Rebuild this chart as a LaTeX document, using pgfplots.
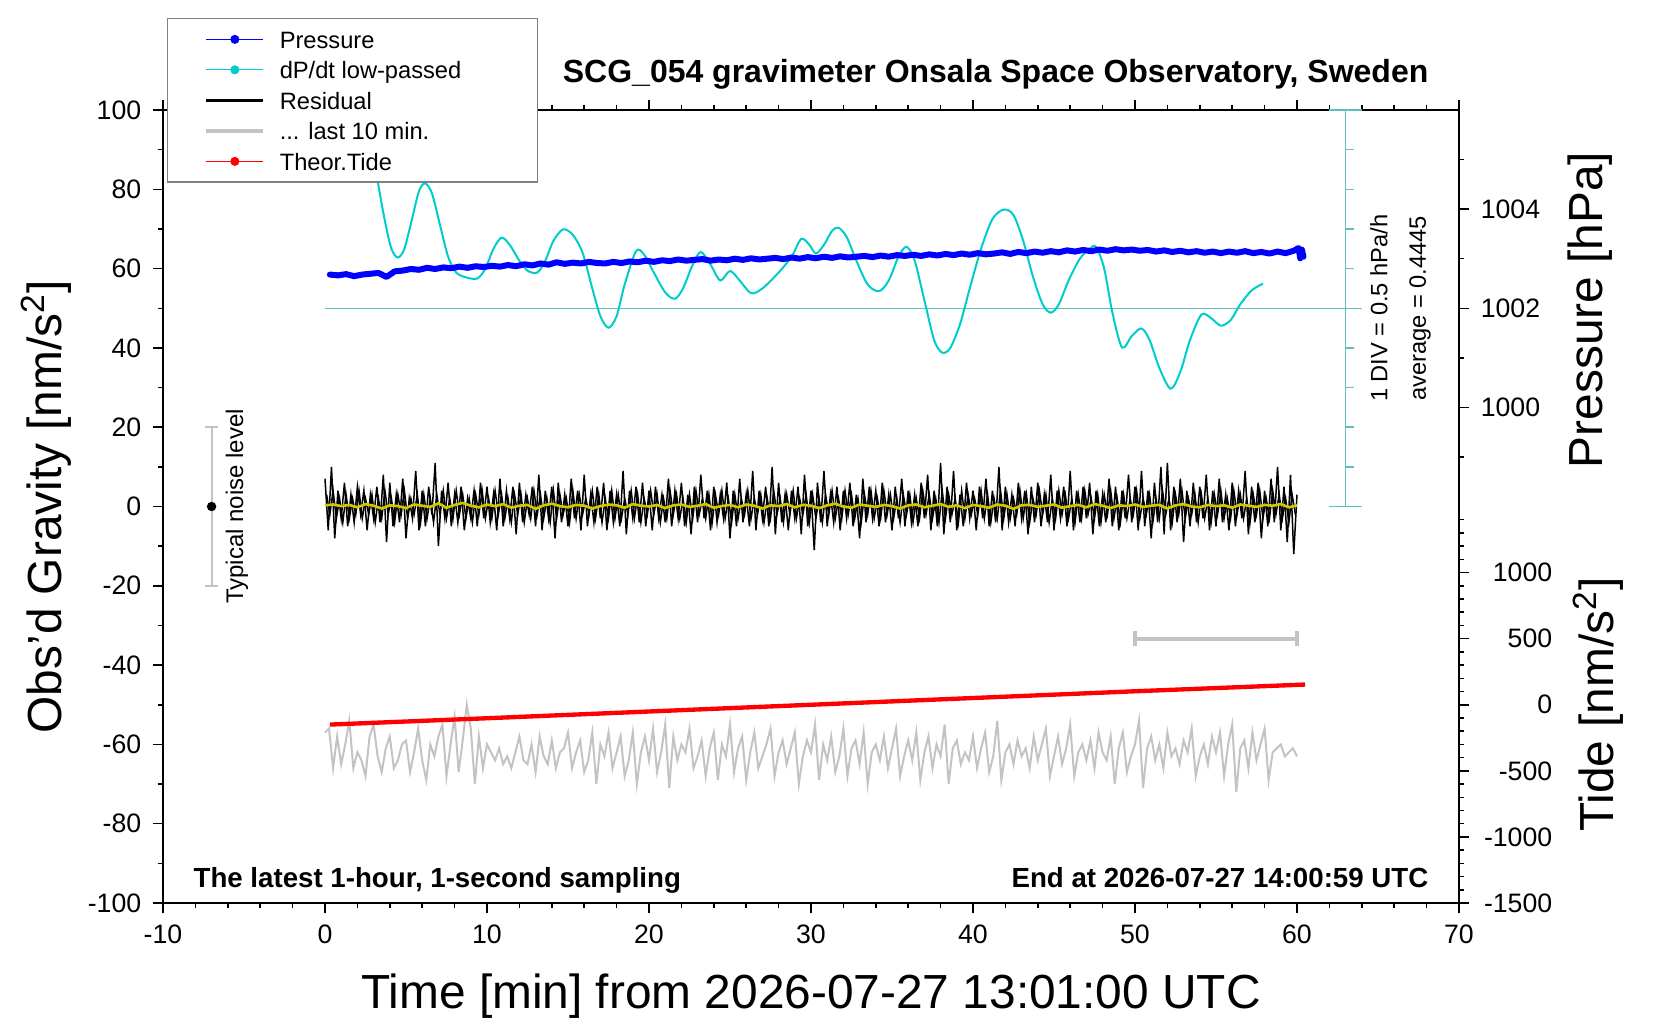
\documentclass[border=0pt]{standalone}
\usepackage{fontspec}
\setmainfont{Liberation Sans}
\usepackage{pgfplots}
\pgfplotsset{compat=1.18}
\definecolor{cyanc}{RGB}{0,204,204}
\definecolor{tealc}{RGB}{95,190,190}
\definecolor{grayc}{RGB}{195,195,195}
\definecolor{yel}{RGB}{205,200,0}
\definecolor{leggray}{RGB}{128,128,128}
\newcommand\lgt[1]{\makebox[63.9pt][l]{\rule[-2.25pt]{0pt}{9.15pt}#1}}
\pgfplotsset{
 common/.style={
  scale only axis, width=388.8pt, height=237.9pt, at={(0,0)}, anchor=south west,
  xmin=-10, xmax=70,
  tick align=outside,
  major tick length=3pt, minor tick length=1.6pt,
  every tick/.style={black, line width=0.45pt},
  axis line style={line width=0.8pt},
  tick label style={font=\fontsize{8}{9.6}\selectfont},
  /pgf/number format/assume math mode=true,
  /pgf/number format/1000 sep={},
  scaled ticks=false,
 }
}
\begin{document}
\begin{tikzpicture}
\path[use as bounding box] (-48.9pt,-35.1pt) rectangle (449.1pt,270.9pt);
\begin{axis}[common, ymin=-100, ymax=100,
  ytick={-100,-80,...,100}, minor y tick num=1,
  xtick={-10,0,...,70}, minor x tick num=4,
  ytick pos=left, xtick pos=both, clip=false,
  legend cell align=left,
  legend style={at={(0.003,1.116)}, anchor=north west, draw=leggray, line width=0.4pt,
    fill=white, inner xsep=11.1pt, inner ysep=2pt, row sep=0.75pt,
    font=\fontsize{7.1}{8.5}\selectfont, cells={anchor=west},
    /tikz/every odd column/.append style={column sep=2pt},
    nodes={inner xsep=2.4pt, inner ysep=0pt}},
]
% legend images
\addlegendimage{blue, line width=0.3pt, mark=*, mark size=1.2pt}
\addlegendentry{\lgt{Pressure}}
\addlegendimage{cyanc, line width=0.3pt, mark=*, mark size=1.2pt}
\addlegendentry{\lgt{dP/dt low-passed}}
\addlegendimage{black, line width=0.8pt}
\addlegendentry{\lgt{Residual}}
\addlegendimage{grayc, line width=1.1pt}
\addlegendentry{\lgt{... last 10 min.}}
\addlegendimage{red, line width=0.3pt, mark=*, mark size=1.2pt}
\addlegendentry{\lgt{Theor.Tide}}

% average line and dP/dt scale
\addplot[tealc, line width=0.45pt, forget plot] coordinates {(0,50)(64,50)};
\addplot[tealc, line width=0.45pt, forget plot] coordinates {(63,0)(63,100)};
\addplot[tealc, line width=0.45pt, forget plot] coordinates {(62,0)(64,0)};
\addplot[tealc, line width=0.45pt, forget plot] coordinates {(62,100)(64,100)};
\addplot[tealc, line width=0.45pt, unbounded coords=jump, forget plot] coordinates {
(63,10)(63.5,10)(nan,nan)(63,20)(63.5,20)(nan,nan)(63,30)(63.5,30)(nan,nan)
(63,40)(63.5,40)(nan,nan)(63,60)(63.5,60)(nan,nan)(63,70)(63.5,70)(nan,nan)
(63,80)(63.5,80)(nan,nan)(63,90)(63.5,90)};

% dP/dt low-passed
\addplot[cyanc, line width=0.6pt, smooth, tension=0.5, forget plot] coordinates {
(2.6,99)(2.9,92)(3.27,81.7)(3.7,72)(4.1,65)(4.5,62.8)(4.9,65)(5.4,73)(5.8,79.5)(6.17,81.5)
(6.6,79)(7.1,71)(7.6,63)(8.1,59)(8.7,57.8)(9.4,57.5)(9.9,60)(10.4,65)(10.9,67.8)(11.4,66)
(12.0,62)(12.5,59.5)(13.1,59)(13.6,62)(14.1,67)(14.7,69.9)(15.3,68.5)(15.9,64)(16.5,55)(17.0,48)
(17.5,45.1)(18.0,48)(18.5,56)(19.2,64.4)(19.7,63.5)(20.3,59)(21.0,54)(21.6,52.4)(22.1,55)(22.7,61)
(23.2,64.2)(23.8,61)(24.4,57)(25.0,59.4)(25.6,57)(26.3,53.8)(27.0,55)(28.0,59)(28.8,63)(29.4,67.5)
(29.9,66)(30.3,63.8)(30.8,66)(31.3,69.5)(31.7,70.3)(32.2,68)(32.8,62)(33.5,56)(34.2,54.3)(34.8,57)
(35.4,63)(35.9,65.5)(36.4,62)(37.0,52)(37.6,42)(38.1,38.8)(38.6,40)(39.2,46)(39.8,55)(40.5,65)
(41.2,72.5)(41.9,74.9)(42.5,73.5)(43.1,67)(43.7,58)(44.3,51)(44.8,48.9)(45.3,51)(45.9,57)(46.6,62.5)
(47.2,65)(47.6,65.5)(48.1,60)(48.6,49)(49.2,40.1)(49.8,43)(50.4,44.9)(50.9,42)(51.5,35)(52.2,29.7)
(52.8,34)(53.4,42)(54.1,48.4)(54.7,47.5)(55.3,45.6)(55.9,47)(56.5,51)(57.2,54.5)(57.9,56.2)};

% Pressure
\addplot[blue, line width=1.8pt, line join=round, line cap=round, forget plot] coordinates {
(0.3,58.5)(0.8,58.3)(1.3,58.6)(1.8,58.1)(2.3,58.5)(2.8,58.7)(3.3,58.9)(3.8,57.9)(4.3,59.3)(4.8,59.5)
(5.3,59.9)(5.8,59.7)(6.3,60.2)(6.8,59.9)(7.3,60.3)(7.8,60.1)(8.3,60.5)(8.8,60.2)(9.3,60.6)(9.8,60.4)
(10.3,60.7)(10.8,60.5)(11.3,60.9)(11.8,60.6)(12.3,61.1)(12.8,60.8)(13.3,61.3)(13.8,61.0)(14.3,61.6)(14.8,61.2)
(15.3,61.5)(15.8,61.3)(16.3,61.7)(16.8,61.4)(17.3,61.3)(17.8,61.7)(18.3,61.4)(18.8,61.8)(19.3,61.6)(19.8,62.0)
(20.3,61.7)(20.8,62.1)(21.3,61.9)(21.8,62.3)(22.3,62.0)(22.8,62.2)(23.3,62.4)(23.8,62.0)(24.3,62.3)(24.8,62.1)
(25.3,62.5)(25.8,62.2)(26.3,62.6)(26.8,62.3)(27.3,62.5)(27.8,62.7)(28.3,62.4)(28.8,62.8)(29.3,62.5)(29.8,62.9)
(30.3,62.6)(30.8,63.0)(31.3,62.7)(31.8,63.1)(32.3,62.8)(32.8,63.0)(33.3,63.2)(33.8,62.9)(34.3,63.3)(34.8,63.0)
(35.3,63.4)(35.8,63.2)(36.3,63.5)(36.8,63.2)(37.3,63.6)(37.8,63.3)(38.3,63.7)(38.8,63.4)(39.3,63.8)(39.8,63.5)
(40.3,63.9)(40.8,63.6)(41.3,63.8)(41.8,64.1)(42.3,63.7)(42.8,64.2)(43.3,63.9)(43.8,64.3)(44.3,64.0)(44.8,64.4)
(45.3,64.1)(45.8,64.6)(46.3,64.3)(46.8,64.7)(47.3,64.4)(47.8,64.8)(48.3,64.5)(48.8,64.9)(49.3,64.6)(49.8,64.8)
(50.3,64.5)(50.8,64.7)(51.3,64.3)(51.8,64.6)(52.3,64.2)(52.8,64.5)(53.3,64.1)(53.8,64.4)(54.3,64.0)(54.8,64.3)
(55.3,63.9)(55.8,64.3)(56.3,64.0)(56.8,64.4)(57.3,63.9)(57.8,64.2)(58.3,63.8)(58.8,64.3)(59.3,63.9)(59.8,64.5)
(60.1,65.2)(60.2,62.6)(60.3,64.8)(60.4,63.0)};

% Residual
\addplot[black, line width=0.45pt, forget plot] coordinates {
(0,7)(0.2,-6)(0.4,10)(0.6,-8)(0.8,4)(1,-3)(1.2,6)(1.4,-5)(1.6,3)(1.8,-4)
(2,5)(2.2,-2)(2.4,4)(2.6,-6)(2.8,3)(3,-3)(3.2,5)(3.4,-4)(3.6,8)(3.8,-9)
(4,6)(4.2,-5)(4.4,3)(4.6,-4)(4.8,7)(5,-8)(5.2,2)(5.4,-3)(5.6,9)(5.8,-6)
(6,4)(6.2,-5)(6.4,5)(6.6,-2)(6.8,11)(7,-10)(7.2,4)(7.4,-3)(7.6,6)(7.8,-5)
(8,3)(8.2,-4)(8.4,5)(8.6,-6)(8.8,2)(9,-3)(9.2,4)(9.4,-5)(9.6,6)(9.8,-3)
(10,5)(10.2,-4)(10.4,3)(10.6,-6)(10.8,7)(11,-5)(11.2,4)(11.4,-3)(11.6,5)(11.8,-7)
(12,6)(12.2,-4)(12.4,3)(12.6,-2)(12.8,5)(13,-5)(13.2,8)(13.4,-6)(13.6,4)(13.8,-3)
(14,5)(14.2,-8)(14.4,6)(14.6,-4)(14.8,3)(15,-5)(15.2,7)(15.4,-3)(15.6,4)(15.8,-6)
(16,8)(16.2,-5)(16.4,3)(16.6,-4)(16.8,5)(17,-3)(17.2,6)(17.4,-6)(17.6,4)(17.8,-4)
(18,3)(18.2,-5)(18.4,9)(18.6,-7)(18.8,4)(19,-3)(19.2,5)(19.4,-4)(19.6,6)(19.8,-5)
(20,4)(20.2,-6)(20.4,5)(20.6,-3)(20.8,3)(21,-4)(21.2,7)(21.4,-5)(21.6,4)(21.8,-3)
(22,6)(22.2,-5)(22.4,3)(22.6,-7)(22.8,5)(23,-4)(23.2,8)(23.4,-3)(23.6,4)(23.8,-6)
(24,5)(24.2,-4)(24.4,3)(24.6,-3)(24.8,6)(25,-8)(25.2,4)(25.4,-5)(25.6,7)(25.8,-4)
(26,3)(26.2,-5)(26.4,9)(26.6,-6)(26.8,4)(27,-3)(27.2,5)(27.4,-5)(27.6,10)(27.8,-7)
(28,6)(28.2,-4)(28.4,3)(28.6,-6)(28.8,4)(29,-3)(29.2,5)(29.4,-7)(29.6,8)(29.8,-5)
(30,4)(30.2,-11)(30.4,6)(30.6,-4)(30.8,9)(31,-5)(31.2,3)(31.4,-4)(31.6,5)(31.8,-6)
(32,4)(32.2,-3)(32.4,6)(32.6,-5)(32.8,3)(33,-8)(33.2,7)(33.4,-4)(33.6,5)(33.8,-3)
(34,4)(34.2,-5)(34.4,6)(34.6,-4)(34.8,3)(35,-6)(35.2,5)(35.4,-3)(35.6,7)(35.8,-5)
(36,4)(36.2,-4)(36.4,3)(36.6,-5)(36.8,6)(37,-3)(37.2,8)(37.4,-6)(37.6,4)(37.8,-5)
(38,11)(38.2,-7)(38.4,5)(38.6,-4)(38.8,9)(39,-6)(39.2,3)(39.4,-5)(39.6,6)(39.8,-3)
(40,4)(40.2,-6)(40.4,5)(40.6,-3)(40.8,7)(41,-5)(41.2,4)(41.4,-4)(41.6,10)(41.8,-6)
(42,5)(42.2,-4)(42.4,3)(42.6,-5)(42.8,6)(43,-3)(43.2,4)(43.4,-7)(43.6,5)(43.8,-4)
(44,6)(44.2,-5)(44.4,3)(44.6,-4)(44.8,8)(45,-6)(45.2,4)(45.4,-3)(45.6,5)(45.8,-5)
(46,9)(46.2,-6)(46.4,4)(46.6,-4)(46.8,5)(47,-3)(47.2,6)(47.4,-7)(47.6,4)(47.8,-5)
(48,3)(48.2,-4)(48.4,7)(48.6,-5)(48.8,5)(49,-6)(49.2,4)(49.4,-3)(49.6,8)(49.8,-4)
(50,5)(50.2,-6)(50.4,9)(50.6,-5)(50.8,4)(51,-8)(51.2,6)(51.4,-4)(51.6,10)(51.8,-7)
(52,11)(52.2,-6)(52.4,5)(52.6,-4)(52.8,7)(53,-9)(53.2,4)(53.4,-5)(53.6,6)(53.8,-4)
(54,5)(54.2,-3)(54.4,8)(54.6,-6)(54.8,4)(55,-5)(55.2,7)(55.4,-4)(55.6,3)(55.8,-6)
(56,6)(56.2,-5)(56.4,4)(56.6,-3)(56.8,9)(57,-7)(57.2,5)(57.4,-4)(57.6,6)(57.8,-8)
(58,4)(58.2,-5)(58.4,7)(58.6,-4)(58.8,10)(59,-6)(59.2,5)(59.4,-9)(59.6,8)(59.8,-12)(60,3)};
% Residual, intermediate samples
\addplot[black, line width=0.45pt, forget plot] coordinates {
(0.1,3)(0.3,-2)(0.5,4)(0.7,-3)(0.9,2)(1.1,-4)(1.3,3)(1.5,-3)(1.7,2)(1.9,-2)
(2.1,4)(2.3,-3)(2.5,2)(2.7,-2)(2.9,3)(3.1,-4)(3.3,2)(3.5,-3)(3.7,4)(3.9,-2)
(4.1,2)(4.3,-4)(4.5,3)(4.7,-2)(4.9,4)(5.1,-3)(5.3,2)(5.5,-2)(5.7,3)(5.9,-4)
(6.1,3)(6.3,-3)(6.5,2)(6.7,-4)(6.9,3)(7.1,-2)(7.3,4)(7.5,-3)(7.7,2)(7.9,-3)
(8.1,4)(8.3,-2)(8.5,3)(8.7,-3)(8.9,2)(9.1,-4)(9.3,3)(9.5,-2)(9.7,4)(9.9,-3)
(10.1,2)(10.3,-3)(10.5,4)(10.7,-2)(10.9,3)(11.1,-3)(11.3,2)(11.5,-4)(11.7,3)(11.9,-2)
(12.1,3)(12.3,-4)(12.5,2)(12.7,-3)(12.9,4)(13.1,-2)(13.3,3)(13.5,-3)(13.7,2)(13.9,-4)
(14.1,4)(14.3,-3)(14.5,3)(14.7,-2)(14.9,2)(15.1,-4)(15.3,4)(15.5,-3)(15.7,3)(15.9,-2)
(16.1,2)(16.3,-2)(16.5,4)(16.7,-3)(16.9,3)(17.1,-4)(17.3,2)(17.5,-3)(17.7,4)(17.9,-3)
(18.1,3)(18.3,-3)(18.5,2)(18.7,-2)(18.9,4)(19.1,-3)(19.3,3)(19.5,-4)(19.7,2)(19.9,-2)
(20.1,4)(20.3,-2)(20.5,3)(20.7,-4)(20.9,2)(21.1,-3)(21.3,4)(21.5,-2)(21.7,3)(21.9,-3)
(22.1,2)(22.3,-4)(22.5,3)(22.7,-3)(22.9,4)(23.1,-2)(23.3,2)(23.5,-3)(23.7,3)(23.9,-4)
(24.1,3)(24.3,-2)(24.5,4)(24.7,-3)(24.9,2)(25.1,-4)(25.3,3)(25.5,-3)(25.7,2)(25.9,-2)
(26.1,4)(26.3,-3)(26.5,2)(26.7,-2)(26.9,3)(27.1,-4)(27.3,2)(27.5,-3)(27.7,4)(27.9,-2)
(28.1,2)(28.3,-4)(28.5,3)(28.7,-2)(28.9,4)(29.1,-3)(29.3,2)(29.5,-2)(29.7,3)(29.9,-4)
(30.1,3)(30.3,-3)(30.5,2)(30.7,-4)(30.9,3)(31.1,-2)(31.3,4)(31.5,-3)(31.7,2)(31.9,-3)
(32.1,4)(32.3,-2)(32.5,3)(32.7,-3)(32.9,2)(33.1,-4)(33.3,3)(33.5,-2)(33.7,4)(33.9,-3)
(34.1,2)(34.3,-3)(34.5,4)(34.7,-2)(34.9,3)(35.1,-3)(35.3,2)(35.5,-4)(35.7,3)(35.9,-2)
(36.1,3)(36.3,-4)(36.5,2)(36.7,-3)(36.9,4)(37.1,-2)(37.3,3)(37.5,-3)(37.7,2)(37.9,-4)
(38.1,4)(38.3,-3)(38.5,3)(38.7,-2)(38.9,2)(39.1,-4)(39.3,4)(39.5,-3)(39.7,3)(39.9,-2)
(40.1,2)(40.3,-2)(40.5,4)(40.7,-3)(40.9,3)(41.1,-4)(41.3,2)(41.5,-3)(41.7,4)(41.9,-3)
(42.1,3)(42.3,-3)(42.5,2)(42.7,-2)(42.9,4)(43.1,-3)(43.3,3)(43.5,-4)(43.7,2)(43.9,-2)
(44.1,4)(44.3,-2)(44.5,3)(44.7,-4)(44.9,2)(45.1,-3)(45.3,4)(45.5,-2)(45.7,3)(45.9,-3)
(46.1,2)(46.3,-4)(46.5,3)(46.7,-3)(46.9,4)(47.1,-2)(47.3,2)(47.5,-3)(47.7,3)(47.9,-4)
(48.1,3)(48.3,-2)(48.5,4)(48.7,-3)(48.9,2)(49.1,-4)(49.3,3)(49.5,-3)(49.7,2)(49.9,-2)
(50.1,4)(50.3,-3)(50.5,2)(50.7,-2)(50.9,3)(51.1,-4)(51.3,2)(51.5,-3)(51.7,4)(51.9,-2)
(52.1,2)(52.3,-4)(52.5,3)(52.7,-2)(52.9,4)(53.1,-3)(53.3,2)(53.5,-2)(53.7,3)(53.9,-4)
(54.1,3)(54.3,-3)(54.5,2)(54.7,-4)(54.9,3)(55.1,-2)(55.3,4)(55.5,-3)(55.7,2)(55.9,-3)
(56.1,4)(56.3,-2)(56.5,3)(56.7,-3)(56.9,2)(57.1,-4)(57.3,3)(57.5,-2)(57.7,4)(57.9,-3)
(58.1,2)(58.3,-3)(58.5,4)(58.7,-2)(58.9,3)(59.1,-3)(59.3,2)(59.5,-4)(59.7,3)(59.9,-2)};

% running mean (yellow)
\addplot[yel, line width=0.8pt, forget plot] coordinates {
(0,0.3)(0.5,0.5)(1,0.1)(1.5,0.4)(2,-0.2)(2.5,0.6)(3,0.2)(3.5,-0.5)(4,0.3)(4.5,0.1)
(5,-0.4)(5.5,0.5)(6,0.2)(6.5,-0.1)(7,0.8)(7.5,-0.3)(8,0.4)(8.5,0.9)(9,0.2)(9.5,-0.2)
(10,0.5)(10.5,0.1)(11,0.6)(11.5,-0.3)(12,0.2)(12.5,0.4)(13,-0.6)(13.5,0.3)(14,0.7)(14.5,0.1)
(15,-0.2)(15.5,0.4)(16,0.2)(16.5,-0.5)(17,0.1)(17.5,0.5)(18,0.3)(18.5,-0.3)(19,0.6)(19.5,0.2)
(20,0.0)(20.5,0.4)(21,-0.4)(21.5,0.3)(22,0.5)(22.5,-0.1)(23,0.2)(23.5,0.6)(24,-0.3)(24.5,0.1)
(25,0.4)(25.5,-0.2)(26,0.5)(26.5,0.2)(27,-0.5)(27.5,0.3)(28,0.1)(28.5,0.6)(29,-0.2)(29.5,0.4)
(30,0.2)(30.5,-0.4)(31,0.3)(31.5,0.7)(32,0.0)(32.5,-0.3)(33,0.5)(33.5,0.2)(34,-0.1)(34.5,0.4)
(35,0.1)(35.5,-0.5)(36,0.3)(36.5,0.5)(37,-0.2)(37.5,0.2)(38,0.6)(38.5,-0.1)(39,0.3)(39.5,-0.4)
(40,0.4)(40.5,0.1)(41,-0.3)(41.5,0.5)(42,0.2)(42.5,-0.6)(43,0.3)(43.5,0.4)(44,-0.1)(44.5,0.2)
(45,0.5)(45.5,-0.3)(46,0.1)(46.5,0.4)(47,-0.2)(47.5,0.6)(48,0.2)(48.5,-0.4)(49,0.3)(49.5,0.1)
(50,0.5)(50.5,-0.1)(51,0.2)(51.5,0.4)(52,-0.5)(52.5,0.3)(53,0.6)(53.5,0.0)(54,-0.2)(54.5,0.4)
(55,0.1)(55.5,0.3)(56,-0.3)(56.5,0.5)(57,0.2)(57.5,-0.1)(58,0.4)(58.5,0.2)(59,0.6)(59.5,-0.2)(60,0.3)};

% last 10 min (stretched)
\addplot[grayc, line width=0.6pt, forget plot] coordinates {
(0,-57)(0.25,-56)(0.5,-66)(0.75,-58)(1,-65)(1.25,-60)(1.5,-54)(1.75,-66)(2,-62)(2.25,-64)
(2.5,-68)(2.75,-58)(3,-55)(3.25,-63)(3.5,-67)(3.75,-61)(4,-58)(4.25,-66)(4.5,-64)(4.75,-60)
(5,-59)(5.25,-67)(5.5,-62)(5.75,-56)(6,-64)(6.25,-69)(6.5,-60)(6.75,-63)(7,-58)(7.25,-55)
(7.5,-68)(7.75,-60)(8,-53)(8.25,-67)(8.5,-59)(8.75,-50)(9,-56)(9.25,-70)(9.5,-58)(9.75,-66)
(10,-60)(10.25,-62)(10.5,-64)(10.75,-61)(11,-65)(11.25,-63)(11.5,-66)(11.75,-62)(12,-58)(12.25,-64)
(12.5,-65)(12.75,-60)(13,-67)(13.25,-58)(13.5,-63)(13.75,-65)(14,-59)(14.25,-66)(14.5,-62)(14.75,-61)
(15,-57)(15.25,-66)(15.5,-62)(15.75,-59)(16,-67)(16.25,-64)(16.5,-57)(16.75,-70)(17,-60)(17.25,-63)
(17.5,-57)(17.75,-66)(18,-62)(18.25,-58)(18.5,-68)(18.75,-64)(19,-57)(19.25,-70)(19.5,-62)(19.75,-58)
(20,-64)(20.25,-56)(20.5,-67)(20.75,-62)(21,-55)(21.25,-71)(21.5,-58)(21.75,-64)(22,-60)(22.25,-62)
(22.5,-56)(22.75,-66)(23,-63)(23.25,-59)(23.5,-68)(23.75,-61)(24,-57)(24.25,-69)(24.5,-60)(24.75,-63)
(25,-55)(25.25,-67)(25.5,-61)(25.75,-58)(26,-69)(26.25,-62)(26.5,-57)(26.75,-66)(27,-63)(27.25,-60)
(27.5,-56)(27.75,-68)(28,-62)(28.25,-59)(28.5,-65)(28.75,-61)(29,-57)(29.25,-70)(29.5,-63)(29.75,-59)
(30,-62)(30.25,-55)(30.5,-69)(30.75,-60)(31,-64)(31.25,-58)(31.5,-67)(31.75,-63)(32,-56)(32.25,-68)
(32.5,-61)(32.75,-59)(33,-65)(33.25,-57)(33.5,-70)(33.75,-62)(34,-60)(34.25,-64)(34.5,-58)(34.75,-66)
(35,-61)(35.25,-56)(35.5,-68)(35.75,-63)(36,-59)(36.25,-64)(36.5,-57)(36.75,-69)(37,-62)(37.25,-58)
(37.5,-66)(37.75,-60)(38,-63)(38.25,-55)(38.5,-70)(38.75,-61)(39,-59)(39.25,-65)(39.5,-62)(39.75,-64)
(40,-58)(40.25,-66)(40.5,-61)(40.75,-57)(41,-67)(41.25,-63)(41.5,-54)(41.75,-69)(42,-62)(42.25,-60)
(42.5,-65)(42.75,-59)(43,-63)(43.25,-61)(43.5,-66)(43.75,-58)(44,-64)(44.25,-60)(44.5,-56)(44.75,-68)
(45,-63)(45.25,-58)(45.5,-65)(45.75,-61)(46,-55)(46.25,-68)(46.5,-62)(46.75,-60)(47,-64)(47.25,-59)
(47.5,-66)(47.75,-57)(48,-62)(48.25,-64)(48.5,-58)(48.75,-70)(49,-61)(49.25,-57)(49.5,-67)(49.75,-63)
(50,-60)(50.25,-54)(50.5,-71)(50.75,-61)(51,-58)(51.25,-64)(51.5,-60)(51.75,-66)(52,-57)(52.25,-63)
(52.5,-61)(52.75,-65)(53,-59)(53.25,-62)(53.5,-56)(53.75,-68)(54,-63)(54.25,-60)(54.5,-65)(54.75,-58)
(55,-62)(55.25,-57)(55.5,-68)(55.75,-60)(56,-55)(56.25,-72)(56.5,-61)(56.75,-59)(57,-66)(57.25,-57)
(57.5,-64)(57.75,-60)(58,-56)(58.25,-69)(58.5,-62)(58.75,-61)(59,-60)(59.25,-63)(59.5,-62)(59.75,-61)(60,-63)};

% 10-minute marker bar
\addplot[grayc, line width=1.2pt, forget plot] coordinates {(50,-33.3)(60,-33.3)};
\addplot[grayc, line width=1.2pt, forget plot] coordinates {(50,-35.1)(50,-31.5)};
\addplot[grayc, line width=1.2pt, forget plot] coordinates {(60,-35.1)(60,-31.5)};

% Theoretical tide
\addplot[red, line width=1.3pt, forget plot] coordinates {
(0.3,-55.0)(10,-53.4)(20,-51.7)(30,-50.0)(40,-48.3)(50,-46.6)(60.5,-44.9)};

% typical noise level
\addplot[grayc, line width=0.6pt, forget plot] coordinates {(-7,-20)(-7,20)};
\addplot[grayc, line width=0.6pt, forget plot] coordinates {(-7.4,20)(-6.6,20)};
\addplot[grayc, line width=0.6pt, forget plot] coordinates {(-7.4,-20)(-6.6,-20)};
\addplot[black, only marks, mark=*, mark size=1.2pt, forget plot] coordinates {(-7,0)};

% texts
\node[anchor=base, inner sep=0pt, font=\bfseries\fontsize{9.6}{11.5}\selectfont] at (axis cs:41.4,107.0) {SCG\_054 gravimeter Onsala Space Observatory, Sweden};
\node[anchor=base west, inner sep=0pt, font=\bfseries\fontsize{8.3}{10}\selectfont] at (axis cs:-8.15,-96.1) {The latest 1-hour, 1-second sampling};
\node[anchor=base east, inner sep=0pt, font=\bfseries\fontsize{8.3}{10}\selectfont] at (axis cs:68.15,-96.1) {End at 2026-07-27 14:00:59 UTC};
\node[rotate=90, inner sep=0pt, font=\fontsize{7.2}{8.6}\selectfont] at (axis cs:-5.43,0) {Typical noise level};
\node[rotate=90, inner sep=0pt, font=\fontsize{7.1}{8.5}\selectfont] at (axis cs:65.06,50) {1 DIV = 0.5 hPa/h};
\node[rotate=90, inner sep=0pt, font=\fontsize{7.1}{8.5}\selectfont] at (axis cs:67.6,50) {average = 0.4445};
\node[rotate=90, inner sep=0pt, font=\fontsize{14.35}{17}\selectfont] at (axis cs:-17.2,0) {Obs’d Gravity [nm/s\textsuperscript{2}]};
\node[anchor=base, inner sep=0pt, font=\fontsize{14.35}{17}\selectfont] at (axis cs:30,-126.6) {Time [min] from 2026-07-27 13:01:00 UTC};
\node[rotate=90, inner sep=0pt, font=\fontsize{14.35}{17}\selectfont] at (axis cs:78.1,49.6) {Pressure [hPa]};
\node[rotate=90, inner sep=0pt, font=\fontsize{14.35}{17}\selectfont] at (axis cs:78.6,-49.9) {Tide [nm/s\textsuperscript{2}]};
\end{axis}

% Pressure axis (right, upper)
\begin{axis}[common, ymin=990, ymax=1006, axis x line=none, axis y line*=right,
  ytick={1000,1002,1004}, minor ytick={999,1001,1003,1005}]
\addplot[draw=none] coordinates {(0,1000)};
\end{axis}

% Tide axis (right, lower)
\begin{axis}[common, ymin=-1500, ymax=4500, axis x line=none, axis y line*=right,
  ytick={-1500,-1000,...,1000}, minor ytick={-1400,-1300,...,1400},
  yticklabel style={anchor=east, xshift=28.5pt}]
\addplot[draw=none] coordinates {(0,0)};
\end{axis}
\end{tikzpicture}
\end{document}
